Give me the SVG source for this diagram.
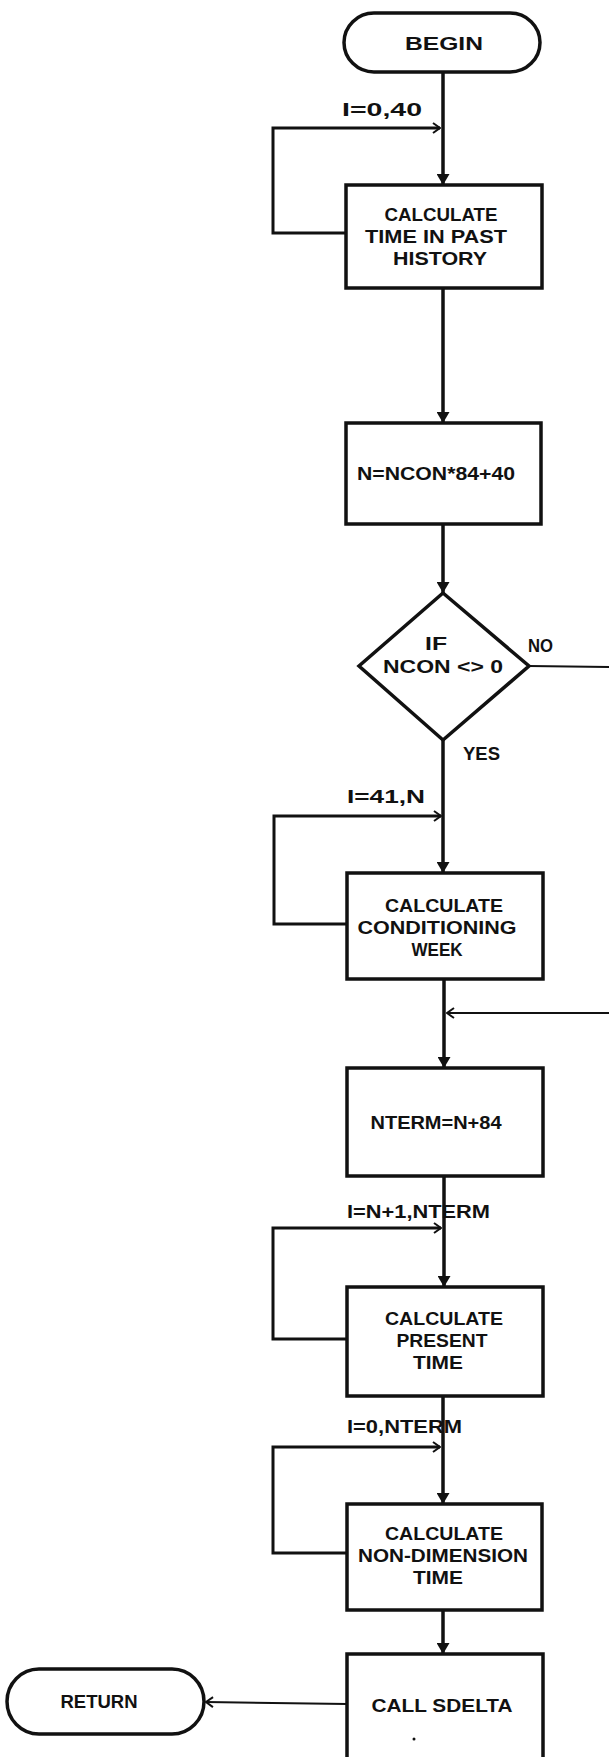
<svg xmlns="http://www.w3.org/2000/svg" width="609" height="1757" viewBox="0 0 609 1757">
<style>
.bg{fill:#ffffff}
.shape{fill:#ffffff;stroke:#111111;stroke-width:3.5}
.flow{fill:none;stroke:#111111;stroke-width:3.5}
.loop{fill:none;stroke:#111111;stroke-width:3}
.thin{fill:none;stroke:#111111;stroke-width:2}
text{font-family:"Liberation Sans Narrow","Liberation Sans",Arial,sans-serif;font-weight:bold;font-size:19px;fill:#111111;text-anchor:middle}
.lbl{text-anchor:start}
</style>
<defs>
<marker id="solid" viewBox="0 0 11 13" refX="11" refY="6.5" markerWidth="11" markerHeight="13" markerUnits="userSpaceOnUse" orient="auto">
<path d="M0,0 L11,6.5 L0,13 Z" fill="#111111"/>
</marker>
<marker id="open" viewBox="0 0 9 12" refX="8" refY="6" markerWidth="9" markerHeight="12" markerUnits="userSpaceOnUse" orient="auto">
<path d="M1,1 L8,6 L1,11" fill="none" stroke="#111111" stroke-width="2"/>
</marker>
</defs>
<rect class="bg" x="0" y="0" width="609" height="1757"/>

<g id="connectors">
<line class="flow" x1="443" y1="72" x2="443" y2="185" marker-end="url(#solid)"/>
<line class="flow" x1="443" y1="288" x2="443" y2="423" marker-end="url(#solid)"/>
<line class="flow" x1="443" y1="524" x2="443" y2="593" marker-end="url(#solid)"/>
<line class="flow" x1="443" y1="740" x2="443" y2="873" marker-end="url(#solid)"/>
<line class="flow" x1="444" y1="979" x2="444" y2="1068" marker-end="url(#solid)"/>
<line class="flow" x1="444" y1="1176" x2="444" y2="1287" marker-end="url(#solid)"/>
<line class="flow" x1="443" y1="1396" x2="443" y2="1504" marker-end="url(#solid)"/>
<line class="flow" x1="443" y1="1610" x2="443" y2="1654" marker-end="url(#solid)"/>
<path class="loop" d="M346,233 H273 V128 H440" marker-end="url(#open)"/>
<path class="loop" d="M347,924 H274 V816 H441" marker-end="url(#open)"/>
<path class="loop" d="M347,1339 H273 V1228 H441" marker-end="url(#open)"/>
<path class="loop" d="M347,1553 H273 V1447 H440" marker-end="url(#open)"/>
<line class="thin" x1="529" y1="666" x2="609" y2="667"/>
<line class="thin" x1="609" y1="1013" x2="447" y2="1013" marker-end="url(#open)"/>
<line class="thin" x1="347" y1="1704" x2="206" y2="1702" marker-end="url(#open)"/>
</g>

<g id="begin">
<rect class="shape" x="344" y="13" width="196" height="59" rx="30" ry="29.5"/>
<text x="444" y="50" textLength="78" lengthAdjust="spacingAndGlyphs">BEGIN</text>
</g>

<g id="label-loop1"><text class="lbl" x="342" y="116" textLength="80" lengthAdjust="spacingAndGlyphs">I=0,40</text></g>

<g id="past-history">
<rect class="shape" x="346" y="185" width="196" height="103"/>
<text x="441" y="221" textLength="113" lengthAdjust="spacingAndGlyphs">CALCULATE</text>
<text x="436" y="243" textLength="142" lengthAdjust="spacingAndGlyphs">TIME IN PAST</text>
<text x="440" y="265" textLength="94" lengthAdjust="spacingAndGlyphs">HISTORY</text>
</g>

<g id="compute-n">
<rect class="shape" x="346" y="423" width="195" height="101"/>
<text x="436" y="480" textLength="158" lengthAdjust="spacingAndGlyphs">N=NCON*84+40</text>
</g>

<g id="decision">
<polygon class="shape" points="443,593 529,666 443,740 359,666"/>
<text x="436" y="650" textLength="22" lengthAdjust="spacingAndGlyphs">IF</text>
<text x="443" y="673" textLength="120" lengthAdjust="spacingAndGlyphs">NCON &lt;&gt; 0</text>
</g>
<g id="label-no"><text class="lbl" x="528" y="652" textLength="25" lengthAdjust="spacingAndGlyphs">NO</text></g>
<g id="label-yes"><text class="lbl" x="463" y="760" textLength="37" lengthAdjust="spacingAndGlyphs">YES</text></g>
<g id="label-loop2"><text class="lbl" x="347" y="803" textLength="78" lengthAdjust="spacingAndGlyphs">I=41,N</text></g>

<g id="conditioning-week">
<rect class="shape" x="347" y="873" width="196" height="106"/>
<text x="444" y="912" textLength="118" lengthAdjust="spacingAndGlyphs">CALCULATE</text>
<text x="437" y="934" textLength="159" lengthAdjust="spacingAndGlyphs">CONDITIONING</text>
<text x="437" y="956" textLength="51" lengthAdjust="spacingAndGlyphs">WEEK</text>
</g>

<g id="nterm">
<rect class="shape" x="347" y="1068" width="196" height="108"/>
<text x="436" y="1129" textLength="131" lengthAdjust="spacingAndGlyphs">NTERM=N+84</text>
</g>
<g id="label-loop3"><text class="lbl" x="347" y="1218" textLength="143" lengthAdjust="spacingAndGlyphs">I=N+1,NTERM</text></g>

<g id="present-time">
<rect class="shape" x="347" y="1287" width="196" height="109"/>
<text x="444" y="1325" textLength="118" lengthAdjust="spacingAndGlyphs">CALCULATE</text>
<text x="442" y="1347" textLength="91" lengthAdjust="spacingAndGlyphs">PRESENT</text>
<text x="438" y="1369" textLength="50" lengthAdjust="spacingAndGlyphs">TIME</text>
</g>
<g id="label-loop4"><text class="lbl" x="347" y="1433" textLength="115" lengthAdjust="spacingAndGlyphs">I=0,NTERM</text></g>

<g id="non-dimension-time">
<rect class="shape" x="347" y="1504" width="195" height="106"/>
<text x="444" y="1540" textLength="118" lengthAdjust="spacingAndGlyphs">CALCULATE</text>
<text x="443" y="1562" textLength="170" lengthAdjust="spacingAndGlyphs">NON-DIMENSION</text>
<text x="438" y="1584" textLength="50" lengthAdjust="spacingAndGlyphs">TIME</text>
</g>

<g id="call-sdelta">
<rect class="shape" x="347" y="1654" width="196" height="110"/>
<text x="442" y="1712" textLength="141" lengthAdjust="spacingAndGlyphs">CALL SDELTA</text>
<circle cx="414" cy="1739" r="1.5" fill="#111111"/>
</g>

<g id="return">
<rect class="shape" x="7" y="1669" width="197" height="65" rx="32" ry="32.5"/>
<text x="99" y="1708" textLength="77" lengthAdjust="spacingAndGlyphs">RETURN</text>
</g>
</svg>
